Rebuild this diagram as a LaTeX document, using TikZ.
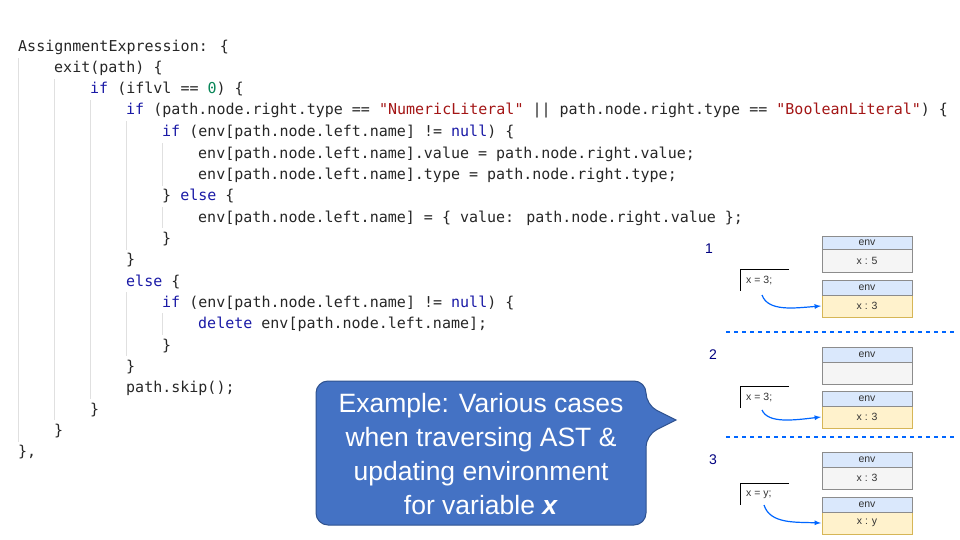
\documentclass[tikz,border=0pt]{standalone}
\usepackage{fontspec}
\setmainfont{Liberation Sans}
\newfontfamily\codefont{DejaVu Sans Mono}
\begin{document}
\begin{tikzpicture}[x=1pt,y=-1pt,
 cl/.style={anchor=west,inner sep=0pt,font=\codefont\fontsize{15}{16}\selectfont,text=black!85},
 guide/.style={draw=black!12,line width=0.8pt},
 hdr/.style={draw=black!45,fill={rgb,255:red,218;green,232;blue,252},line width=0.5pt},
 envbody/.style={draw=black!45,fill=black!4,line width=0.5pt},
 newbody/.style={draw={rgb,255:red,214;green,182;blue,86},fill={rgb,255:red,255;green,242;blue,204},line width=0.5pt},
 small/.style={font=\fontsize{10.5}{11}\selectfont,text=black!80,inner sep=0pt},
 num/.style={font=\fontsize{14}{16}\selectfont,text=blue!50!black,inner sep=0pt},
 sep/.style={draw=blue!60!cyan,line width=1.5pt,dash pattern=on 4pt off 4pt},
 arr/.style={draw=blue!60!cyan,line width=1.2pt,-latex}]
\useasboundingbox (0,0) rectangle (960,540);
\definecolor{kw}{HTML}{1A1AA6}\definecolor{st}{HTML}{A31515}\definecolor{nm}{HTML}{098658}
\newcommand{\kw}[1]{\textcolor{kw}{#1}}
\newcommand{\st}[1]{\textcolor{st}{#1}}
% guides
\draw[guide] (18,58)--(18,442);
\draw[guide] (54,79)--(54,420);
\draw[guide] (90,100)--(90,399);
\draw[guide] (126,121)--(126,250) (126,292)--(126,356);
\draw[guide] (162,143)--(162,186) (162,207)--(162,228) (162,313)--(162,335);
% code
\node[cl] (l1) at (18,47) {AssignmentExpression: \{};
\node[cl] (l2) at (54,68) {exit(path) \{};
\node[cl] (l3) at (90,89) {\kw{if} (iflvl == \textcolor{nm}{0}) \{};
\node[cl] (l4) at (126,111) {\kw{if} (path.node.right.type == \st{"NumericLiteral"} || path.node.right.type == \st{"BooleanLiteral"}) \{};
\node[cl] (l5) at (162,132) {\kw{if} (env[path.node.left.name] != \kw{null}) \{};
\node[cl] (l6) at (198,154) {env[path.node.left.name].value = path.node.right.value;};
\node[cl] (l7) at (198,175) {env[path.node.left.name].type = path.node.right.type;};
\node[cl] (l8) at (162,196) {\} \kw{else} \{};
\node[cl] (l9) at (198,218) {env[path.node.left.name] = \{ value: path.node.right.value \};};
\node[cl] (l10) at (162,239) {\}};
\node[cl] (l11) at (126,260) {\}};
\node[cl] (l12) at (126,282) {\kw{else} \{};
\node[cl] (l13) at (162,303) {\kw{if} (env[path.node.left.name] != \kw{null}) \{};
\node[cl] (l14) at (198,324) {\kw{delete} env[path.node.left.name];};
\node[cl] (l15) at (162,346) {\}};
\node[cl] (l16) at (126,367) {\}};
\node[cl] (l17) at (126,388) {path.skip();};
\node[cl] (l18) at (90,410) {\}};
\node[cl] (l19) at (54,431) {\}};
\node[cl] (l20) at (18,452) {\},};
% callout
\draw[draw={rgb,255:red,47;green,82;blue,143},line width=1pt,fill={rgb,255:red,68;green,114;blue,196},rounded corners=12pt]
 (316,381) -- (646,381) -- (646,405) [sharp corners]-- (676,420) [rounded corners=12pt]-- (646,435) -- (646,525) -- (316,525) -- cycle;
\node[align=center,text=white,font=\fontsize{26.5}{34}\selectfont,inner sep=0pt] (call) at (481,454)
 {Example: Various cases\\when traversing AST \&\\updating environment\\for variable \textbf{\textit{x}}};
% right panel
\node[num] (n1) at (709,249) {1};
\node[num] (n2) at (713,355) {2};
\node[num] (n3) at (713,460) {3};
\draw[sep] (726,332) -- (955,332);
\draw[sep] (726,437) -- (955,437);
% env boxes
\foreach \t/\m/\b/\st/\lab/\nm in {236/249/272/envbody/x : 5/a, 280/295/317/newbody/x : 3/b, 347/362/384/envbody//c, 391/406/428/newbody/x : 3/d, 452/467/489/envbody/x : 3/e, 497/512/534/newbody/x : y/f}{
 \draw[\st] (822,\m) rectangle (912,\b);
 \draw[hdr] (822,\t) rectangle (912,\m);
 \node[small] (h\nm) at (867,{(\t+\m)/2}) {env};
 \node[small] (v\nm) at (867,{(\m+\b)/2}) {\lab};
 \coordinate (w\nm) at (821,{(\m+\b)/2});
}
% statements
\foreach \y/\txt/\nm in {269/{x = 3;}/s1, 386/{x = 3;}/s2, 483/{x = y;}/s3}{
 \draw[line width=0.8pt] (789,\y) -- (740,\y) -- (740,\y+22);
 \node[small,anchor=west] (\nm) at (746,\y+12) {\txt};
}
\coordinate (a1) at (762,295); \coordinate (a2) at (762,410); \coordinate (a3) at (764,505);
\draw[arr] (a1) .. controls (768,312) and (795,308) .. (wb);
\draw[arr] (a2) .. controls (768,424) and (795,420) .. (wd);
\draw[arr] (a3) .. controls (770,524) and (795,522) .. (wf);
\end{tikzpicture}
\end{document}
